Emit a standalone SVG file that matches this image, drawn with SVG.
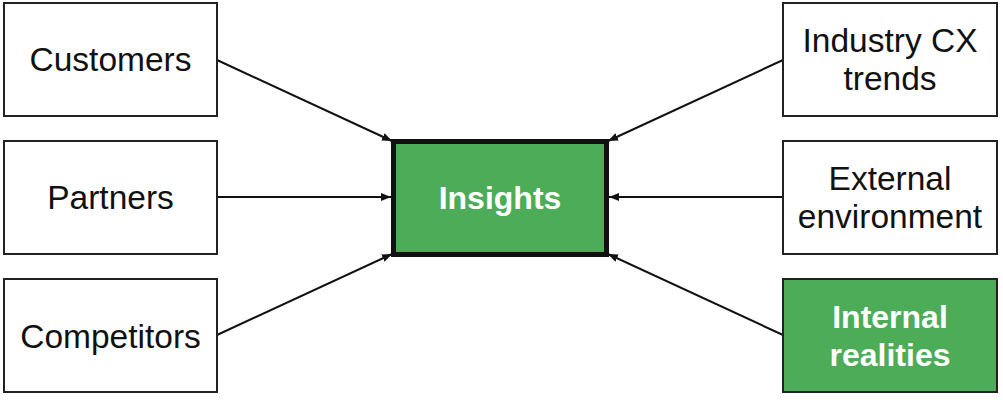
<svg xmlns="http://www.w3.org/2000/svg" width="1003" height="400" viewBox="0 0 1003 400">
<defs>
<marker id="arr" viewBox="0 0 10 10" refX="10" refY="5" markerWidth="10" markerHeight="10" markerUnits="userSpaceOnUse" orient="auto">
<path d="M0,1 L10,5 L0,9 z" fill="#111"/>
</marker>
<style>
.box{fill:#fff;stroke:#222;stroke-width:2}
.gbox{fill:#4CAC58;stroke:#222;stroke-width:2}
.t{font-family:"Liberation Sans",Arial,sans-serif;font-size:33.5px;fill:#111;text-anchor:middle}
.w{font-family:"Liberation Sans",Arial,sans-serif;font-size:32px;font-weight:bold;fill:#fff;text-anchor:middle}
.c{stroke:#111;stroke-width:2;fill:none;marker-end:url(#arr)}
</style>
</defs>
<rect width="1003" height="400" fill="#fff"/>
<g id="connectors">
<line class="c" x1="217" y1="60" x2="392" y2="141"/>
<line class="c" x1="217" y1="197" x2="391" y2="197"/>
<line class="c" x1="217" y1="335" x2="392" y2="254"/>
<line class="c" x1="783" y1="60" x2="608" y2="141"/>
<line class="c" x1="783" y1="197" x2="609" y2="197"/>
<line class="c" x1="783" y1="335" x2="608" y2="254"/>
</g>
<g id="customers"><rect class="box" x="4" y="3" width="213" height="113"/><text class="t" x="110.5" y="71">Customers</text></g>
<g id="partners"><rect class="box" x="4" y="141" width="213" height="113"/><text class="t" x="110.5" y="209">Partners</text></g>
<g id="competitors"><rect class="box" x="4" y="279" width="213" height="113"/><text class="t" x="110.5" y="348">Competitors</text></g>
<g id="insights"><rect x="393.5" y="141.5" width="213" height="113" fill="#4CAC58" stroke="#111" stroke-width="5"/><text class="w" x="500" y="209">Insights</text></g>
<g id="industry"><rect class="box" x="783" y="3" width="214" height="113"/><text class="t" x="890" y="52">Industry CX</text><text class="t" x="890" y="90">trends</text></g>
<g id="external"><rect class="box" x="783" y="141" width="214" height="113"/><text class="t" x="890" y="190">External</text><text class="t" x="890" y="228">environment</text></g>
<g id="internal"><rect class="gbox" x="783" y="279" width="214" height="113"/><text class="w" x="890" y="328">Internal</text><text class="w" x="890" y="366">realities</text></g>
</svg>
